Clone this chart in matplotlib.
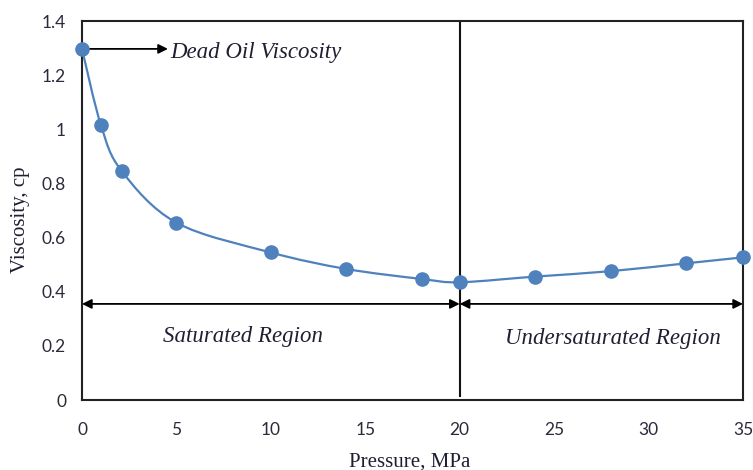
import matplotlib
matplotlib.use("Agg")
import matplotlib.pyplot as plt
from matplotlib.path import Path
from matplotlib.patches import PathPatch
import numpy as np

pressure = [0, 1, 2.1, 5, 10, 14, 18, 20, 24, 28, 32, 35]
viscosity = [1.297, 1.016, 0.846, 0.655, 0.545, 0.484, 0.447, 0.435, 0.456, 0.476, 0.505, 0.527]
bubble_point = 20
arrow_level = 0.355
xticks = [0, 5, 10, 15, 20, 25, 30, 35]
yticks = [0, 0.2, 0.4, 0.6, 0.8, 1, 1.2, 1.4]
ytick_labels = ["0", "0.2", "0.4", "0.6", "0.8", "1", "1.2", "1.4"]

blue = "#4F81BD"
serif = "Liberation Serif"
txtcol = "#1f1f33"

fig = plt.figure(figsize=(7.53, 4.70), dpi=100)
ax = fig.add_axes([0.1089, 0.1489, 0.8778, 0.8064])

# smoothed line (Catmull-Rom -> cubic Bezier, like a spreadsheet "smooth line")
x = np.array(pressure, float)
y = np.array(viscosity, float)
verts = [(x[0], y[0])]
codes = [Path.MOVETO]
n = len(x)
t = 1 / 6
for i in range(n - 1):
    p0 = np.array([x[max(i - 1, 0)], y[max(i - 1, 0)]])
    p1 = np.array([x[i], y[i]])
    p2 = np.array([x[i + 1], y[i + 1]])
    p3 = np.array([x[min(i + 2, n - 1)], y[min(i + 2, n - 1)]])
    c1 = p1 + (p2 - p0) * t
    c2 = p2 - (p3 - p1) * t
    verts += [tuple(c1), tuple(c2), tuple(p2)]
    codes += [Path.CURVE4] * 3
ax.add_patch(PathPatch(Path(verts, codes), facecolor="none", edgecolor=blue, lw=1.6, zorder=3))
ax.plot(pressure, viscosity, "o", color=blue, ms=9.5, zorder=4, clip_on=False)

ax.set_xlim(0, 35)
ax.set_ylim(0, 1.4)
ax.set_xticks(xticks)
ax.set_yticks(yticks)
ax.set_yticklabels(ytick_labels)
ax.tick_params(length=0, labelsize=12.5, colors="#2a2a3a")
ax.tick_params(axis="x", pad=16)
ax.tick_params(axis="y", pad=11.5)
for lab in ax.get_xticklabels() + ax.get_yticklabels():
    lab.set_fontfamily("Lato")
for s in ax.spines.values():
    s.set_linewidth(1.5)
    s.set_color("#222222")

ax.axvline(bubble_point, color="#111111", lw=1.5, ymin=0.01, ymax=1)

# region arrows
arrow_kw = dict(arrowstyle="<|-|>", color="black", lw=1.3, shrinkA=0, shrinkB=0, mutation_scale=14)
ax.annotate("", xy=(0, arrow_level), xytext=(bubble_point, arrow_level), arrowprops=arrow_kw)
ax.annotate("", xy=(bubble_point, arrow_level), xytext=(35, arrow_level), arrowprops=arrow_kw)

ax.text(8.5, 0.234, "Saturated Region", fontfamily=serif, style="italic", fontsize=16.5,
        ha="center", va="center", color=txtcol)
ax.text(28.1, 0.229, "Undersaturated Region", fontfamily=serif, style="italic", fontsize=16.5,
        ha="center", va="center", color=txtcol)

ax.text(4.65, viscosity[0] - 0.012, "Dead Oil Viscosity", fontfamily=serif, style="italic",
        fontsize=16.5, color=txtcol, va="center", ha="left")
ax.annotate("", xy=(4.55, viscosity[0]), xytext=(0, viscosity[0]),
            arrowprops=dict(arrowstyle="-|>", color="black", lw=1.3, shrinkA=0, shrinkB=0,
                            mutation_scale=14))

fig.text(410 / 753, 1 - 462 / 470, "Pressure, MPa", fontfamily=serif, fontsize=15,
         ha="center", va="center", color=txtcol)
fig.text(21 / 753, 1 - 220 / 470, "Viscosity, cp", fontfamily=serif, fontsize=15,
         ha="center", va="center", rotation=90, color=txtcol)

fig.savefig("out.png", dpi=100)
